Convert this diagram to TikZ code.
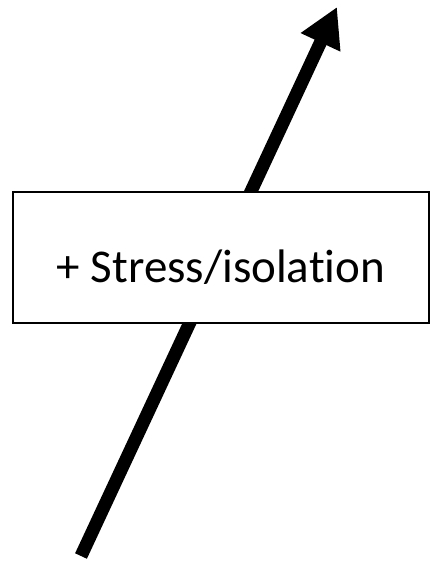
\documentclass[tikz,border=0pt]{standalone}
\usepackage{fontspec}
\setmainfont{Carlito}[Ligatures=NoCommon]
\usetikzlibrary{arrows.meta,positioning}
\tikzset{
  factor/.style = {draw=black, fill=white, line width=1.3pt, rectangle, minimum width=416pt, minimum height=131pt, inner sep=0pt, text height=49pt, text depth=0pt, align=center, font=\fontsize{47}{56}\selectfont},
  trend/.style = {line width=13pt, -{Triangle[length=39pt,width=41pt]}}
}
\begin{document}
\begin{tikzpicture}[x=1pt,y=-1pt]
            \useasboundingbox (0,0) rectangle (431,563);
            \coordinate (low) at (81,556);
            \coordinate (high) at (337,7);
            \draw[trend] (low) -- (high);
            \node[factor] (stress) at (221,257.5) {+ Stress/isolation};
        \end{tikzpicture}
\end{document}
